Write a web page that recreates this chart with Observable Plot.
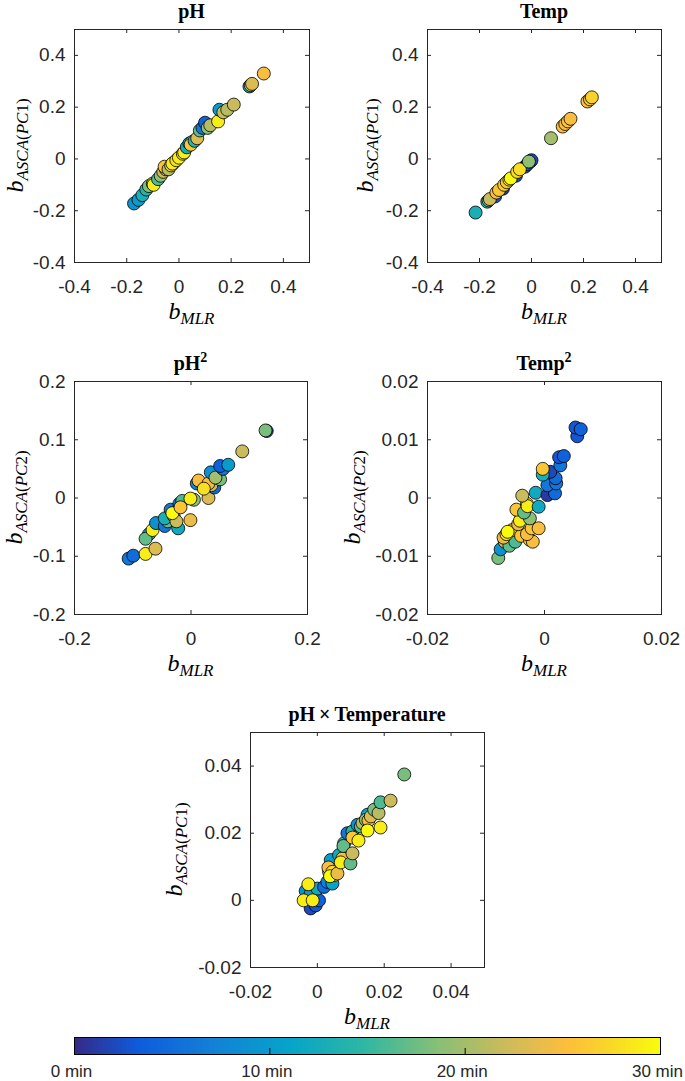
<!DOCTYPE html>
<html><head><meta charset="utf-8">
<script src="https://cdn.jsdelivr.net/npm/d3@7"></script>
<script src="https://cdn.jsdelivr.net/npm/@observablehq/plot@0.6"></script>
<style>
body{margin:0;background:#fff;}
#page{position:relative;width:685px;height:1081px;overflow:hidden;background:#fff;}
#page svg{position:absolute;}
</style></head><body><div id="page"></div>
<script>
// ---------- data ----------
// time colour values in minutes (0..30)
const phX = [-0.172,-0.155,-0.14,-0.125,-0.115,-0.1,-0.097,-0.08,-0.07,-0.06,-0.05,-0.055,-0.04,-0.03,-0.02,-0.025,-0.01,0.0,0.015,0.02,0.03,0.04,0.05,0.045,0.06,0.07,0.08,0.09,0.1,0.11,0.12,0.15,0.155,0.17,0.185,0.21,0.27,0.275,0.28,0.325];
const phY = [-0.172,-0.158,-0.14,-0.118,-0.105,-0.095,-0.1,-0.078,-0.065,-0.05,-0.04,-0.03,-0.04,-0.025,-0.015,-0.018,-0.005,0.005,0.02,0.025,0.045,0.06,0.065,0.055,0.07,0.08,0.11,0.12,0.14,0.12,0.13,0.145,0.19,0.18,0.19,0.21,0.28,0.285,0.29,0.33];
const phT = [9,10,13,14,18,21,29,16,19,22,23,26,21,27,24,29,28,29,28,29,12,11,24,26,14,23,17,6,4,19,21,29,10,22,21,22,12,22,23,25];

const tempX = [-0.14,-0.11,-0.06,-0.025,-0.015,-0.005,0.0,-0.215,-0.17,-0.165,-0.16,-0.135,-0.125,-0.105,-0.095,-0.085,-0.08,-0.055,-0.045,-0.01,0.075,0.12,0.13,0.14,0.15,0.215,0.225,0.232];
const tempY = [-0.145,-0.115,-0.065,-0.03,-0.02,-0.01,-0.005,-0.207,-0.165,-0.16,-0.155,-0.13,-0.12,-0.1,-0.09,-0.08,-0.075,-0.05,-0.04,-0.01,0.08,0.125,0.135,0.145,0.155,0.222,0.23,0.238];
const tempT = [3,1,2,2,3,1,2,13,14,18,22,25,26,27,26,29,30,28,28,19,20,25,25,26,25,25,26,27];

const ph2X = [-0.107,-0.099,-0.078,-0.061,-0.072,-0.078,-0.066,-0.06,-0.045,-0.04,-0.022,-0.045,-0.03,-0.001,-0.035,-0.025,-0.02,-0.015,-0.032,-0.018,0.005,-0.001,0.03,0.04,0.035,0.01,0.013,0.03,0.022,0.034,0.05,0.042,0.055,0.05,0.064,0.088,0.13,0.128];
const ph2Y = [-0.104,-0.099,-0.096,-0.087,-0.062,-0.07,-0.055,-0.043,-0.048,-0.04,-0.052,-0.035,-0.03,-0.038,-0.02,-0.04,-0.01,-0.005,-0.026,-0.016,-0.003,-0.001,0.0,0.018,0.022,0.025,0.03,0.025,0.016,0.044,0.032,0.035,0.05,0.055,0.057,0.08,0.115,0.116];
const ph2T = [6,5,29,23,11,17,29,9,6,17,12,13,21,24,6,22,5,16,30,26,19,29,23,5,22,7,25,25,28,9,18,20,6,4,10,22,2,18];

const temp2X = [-0.0079,-0.0075,-0.0068,-0.006,-0.005,-0.007,-0.0065,-0.0055,-0.0063,-0.004,-0.0025,-0.002,-0.003,-0.0045,-0.0022,-0.001,-0.004,-0.0042,-0.0025,-0.0048,-0.0035,-0.003,-0.0029,-0.001,-0.0038,-0.0015,0.0005,0.0018,0.0005,0.002,0.0019,0.001,-0.0003,-0.0003,0.0027,0.0025,0.0033,0.0056,0.0053,0.0062];
const temp2Y = [-0.0103,-0.0088,-0.0075,-0.0082,-0.0075,-0.0068,-0.0062,-0.0055,-0.0058,-0.0065,-0.0072,-0.0075,-0.0062,-0.0045,-0.0052,-0.0052,-0.0035,-0.0039,-0.0035,-0.002,-0.0025,-0.001,-0.0014,-0.0015,0.0004,0.0009,0.0005,0.0008,0.0022,0.0025,0.0034,0.0045,0.004,0.005,0.0056,0.007,0.0072,0.0106,0.0121,0.0118];
const temp2T = [18,9,22,17,16,24,28,25,30,26,27,25,25,24,26,25,20,29,19,26,17,28,29,12,22,12,1,5,6,6,5,2,13,26,6,3,4,3,3,4];

const phTempX = [-0.002,-0.0005,0.0005,-0.0035,-0.002,0.0,0.002,-0.0041,-0.0014,-0.0027,0.003,0.0045,0.0035,0.004,0.005,0.0033,0.0045,0.0038,0.006,0.0065,0.0075,0.007,0.008,0.0078,0.009,0.0105,0.0099,0.0105,0.0105,0.012,0.013,0.0135,0.0123,0.015,0.0145,0.0153,0.016,0.015,0.017,0.0183,0.0189,0.0189,0.0219,0.026];
const phTempY = [-0.0024,-0.0015,0.0,0.0028,0.002,0.0035,0.004,0.0,0.0,0.0048,0.0055,0.005,0.0085,0.012,0.0075,0.0098,0.0085,0.0072,0.008,0.0135,0.0125,0.0113,0.017,0.0162,0.02,0.0205,0.011,0.014,0.0187,0.0225,0.022,0.023,0.0178,0.0255,0.024,0.0238,0.025,0.0208,0.027,0.026,0.0292,0.0217,0.0297,0.0375];
const phTempT = [2,3,4,9,10,12,5,29,29,29,7,11,20,10,26,25,28,30,24,12,25,29,15,17,6,14,17,22,26,9,17,21,29,11,19,25,23,30,18,21,16,29,22,18];

const colorTicks = [0, 10, 20, 30];
const colorTickLabels = ["0 min", "10 min", "20 min", "30 min"];

// ---------- style ----------
const INK = "#262626";
const parulaPos = [0, 7, 15, 23, 31, 39, 47, 53, 57, 63].map(i => i / 63);
const parulaCol = ["#352a87","#0f5cdd","#1481d6","#06a4ca","#2eb7a4","#87bf77","#d1bb59","#fdbe3d","#f9d32a","#f9fb0e"];
const parula = d3.scaleLinear().domain(parulaPos).range(parulaCol).interpolate(d3.interpolateRgb).clamp(true);
const colorOpts = {type: "linear", domain: [0, 30], interpolate: t => parula(t)};
const SANS = "'Liberation Sans', Arial, Helvetica, sans-serif";
const SERIF = "'Liberation Serif', 'Times New Roman', serif";
const TICKFS = 19;

const page = document.getElementById("page");

const panels = [
  {x: phX, y: phY, t: phT, L: 74, R: 309, T: 29, B: 262, xd: [-0.4, 0.5], yd: [-0.4, 0.5],
   xt: [-0.4,-0.2,0,0.2,0.4], yt: [-0.4,-0.2,0,0.2,0.4], title: ["pH", null], sub: "1", yoff: 51},
  {x: tempX, y: tempY, t: tempT, L: 427, R: 661, T: 29, B: 262, xd: [-0.4, 0.5], yd: [-0.4, 0.5],
   xt: [-0.4,-0.2,0,0.2,0.4], yt: [-0.4,-0.2,0,0.2,0.4], title: ["Temp", null], sub: "1", yoff: 54},
  {x: ph2X, y: ph2Y, t: ph2T, L: 74, R: 307, T: 381, B: 614, xd: [-0.2, 0.2], yd: [-0.2, 0.2],
   xt: [-0.2,0,0.2], yt: [-0.2,-0.1,0,0.1,0.2], title: ["pH", "2"], sub: "2", yoff: 52},
  {x: temp2X, y: temp2Y, t: temp2T, L: 427, R: 661, T: 381, B: 614, xd: [-0.02, 0.02], yd: [-0.02, 0.02],
   xt: [-0.02,0,0.02], yt: [-0.02,-0.01,0,0.01,0.02], title: ["Temp", "2"], sub: "2", yoff: 67},
  {x: phTempX, y: phTempY, t: phTempT, L: 250, R: 484, T: 732, B: 967, xd: [-0.02, 0.05], yd: [-0.02, 0.05],
   xt: [-0.02,0,0.02,0.04], yt: [-0.02,0,0.02,0.04], title: ["pH\u2009\u00D7\u2009Temperature", null], sub: "1", yoff: 68}
];

const mL = 80, mR = 14, mT = 8, mB = 44, TK = 4;

for (const p of panels) {
  const W = p.R - p.L, H = p.B - p.T;
  const rows = p.x.map((x, i) => ({x, y: p.y[i], t: p.t[i]}));
  const chart = Plot.plot({
    width: W + mL + mR, height: H + mT + mB,
    marginLeft: mL, marginRight: mR, marginTop: mT, marginBottom: mB,
    style: {background: "none", fontFamily: SANS, fontSize: TICKFS + "px", color: INK, overflow: "visible"},
    x: {domain: p.xd}, y: {domain: p.yd},
    color: colorOpts,
    marks: [
      Plot.dot(rows, {x: "x", y: "y", fill: "t", r: 6.5, stroke: "#000", strokeWidth: 0.8}),
      Plot.frame({stroke: INK, strokeWidth: 1}),
      Plot.tickX(p.xt, {x: d => d, insetTop: H - TK, stroke: INK}),
      Plot.tickX(p.xt, {x: d => d, insetBottom: H - TK, stroke: INK}),
      Plot.tickY(p.yt, {y: d => d, insetRight: W - TK, stroke: INK}),
      Plot.tickY(p.yt, {y: d => d, insetLeft: W - TK, stroke: INK}),
      Plot.axisX({ticks: p.xt, tickSize: 0, tickPadding: 17, tickFormat: d => String(d), label: null, fill: INK, fontSize: TICKFS}),
      Plot.axisY({ticks: p.yt, tickSize: 0, tickPadding: 9, tickFormat: d => String(d), label: null, fill: INK, fontSize: TICKFS})
    ]
  });
  chart.style.left = (p.L - mL) + "px";
  chart.style.top = (p.T - mT) + "px";
  page.appendChild(chart);
}

// ---------- colour bar ----------
{
  const L = 74, R = 660, T = 1037, B = 1054;
  const W = R - L, H = B - T;
  const m = {l: 40, r: 24, t: 2, b: 26};
  const steps = d3.range(0, 30, 0.1);
  const cb = Plot.plot({
    width: W + m.l + m.r, height: H + m.t + m.b,
    marginLeft: m.l, marginRight: m.r, marginTop: m.t, marginBottom: m.b,
    style: {background: "none", fontFamily: SANS, fontSize: "17px", color: INK, overflow: "visible"},
    x: {domain: [0, 30]}, y: {domain: [0, 1], axis: null},
    color: colorOpts,
    marks: [
      Plot.rect(steps, {x1: d => d, x2: d => Math.min(30, d + 0.15), y1: 0, y2: 1, fill: d => d + 0.05}),
      Plot.frame({stroke: "#000", strokeWidth: 1}),
      Plot.tickX(colorTicks.slice(1, 3), {x: d => d, insetTop: H - 6, stroke: "#000"}),
      Plot.axisX({ticks: colorTicks, tickSize: 0, tickPadding: 10, dx: -3,
        tickFormat: d => colorTickLabels[colorTicks.indexOf(d)], label: null, fill: INK, fontSize: 17})
    ]
  });
  cb.style.left = (L - m.l) + "px";
  cb.style.top = (T - m.t) + "px";
  page.appendChild(cb);
}

// ---------- titles & axis labels (text overlay) ----------
const ov = d3.select(page).append("svg")
  .attr("width", 685).attr("height", 1081)
  .style("left", "0px").style("top", "0px").style("pointer-events", "none");

for (const p of panels) {
  const cx = (p.L + p.R) / 2, cy = (p.T + p.B) / 2;
  // title
  const tt = ov.append("text").attr("x", cx).attr("y", p.T - 11)
    .attr("text-anchor", "middle").attr("font-family", SERIF).attr("font-weight", "bold")
    .attr("font-size", 20).attr("fill", "#000");
  tt.append("tspan").text(p.title[0]);
  if (p.title[1]) tt.append("tspan").attr("dy", -8).attr("font-size", 14).text(p.title[1]);
  // x label
  const xl = ov.append("text").attr("x", cx).attr("y", p.B + 57)
    .attr("text-anchor", "middle").attr("font-family", SERIF).attr("fill", "#000");
  xl.append("tspan").attr("font-style", "italic").attr("font-size", 24).text("b");
  xl.append("tspan").attr("font-style", "italic").attr("font-size", 17).attr("dy", 5).text("MLR");
  // y label
  const yx = p.L - p.yoff;
  const yl = ov.append("text").attr("transform", `translate(${yx},${cy}) rotate(-90)`)
    .attr("text-anchor", "middle").attr("font-family", SERIF).attr("fill", "#000");
  yl.append("tspan").attr("font-style", "italic").attr("font-size", 24).text("b");
  const s = yl.append("tspan").attr("font-size", 17).attr("dy", 5);
  s.append("tspan").attr("font-style", "italic").text("ASCA");
  s.append("tspan").text("(");
  s.append("tspan").attr("font-style", "italic").text("PC");
  s.append("tspan").text(p.sub + ")");
}
</script></body></html>
